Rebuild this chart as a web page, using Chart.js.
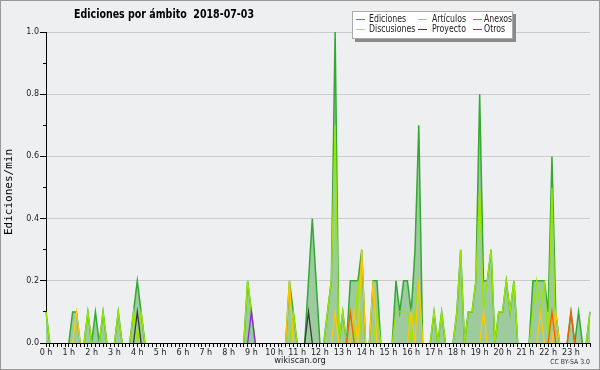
<!DOCTYPE html>
<html>
<head>
<meta charset="utf-8">
<script src="https://cdn.jsdelivr.net/npm/chart.js@4.4.0/dist/chart.umd.min.js"></script>
<style>
    html, body { margin: 0; padding: 0; background: #eeeff1; }
    canvas { display: block; }
</style>
</head>
<body>
<canvas id="myChartCanvasAmbito" width="600" height="370"></canvas>
<script>
// etiquetas de las horas (eje x)
let horas = ['0 h', '1 h', '2 h', '3 h', '4 h', '5 h', '6 h', '7 h', '8 h', '9 h', '10 h', '11 h',
    '12 h', '13 h', '14 h', '15 h', '16 h', '17 h', '18 h', '19 h', '20 h', '21 h', '22 h', '23 h'];

// ediciones por minuto, tramos de 10 minutos (6 por hora)
let ediciones = [
    0.1, 0, 0, 0, 0, 0,        // 0 h
    0, 0.1, 0.1, 0, 0, 0.1,    // 1 h
    0, 0.1, 0, 0.1, 0, 0,      // 2 h
    0, 0.1, 0, 0, 0, 0.1,      // 3 h
    0.2, 0.1, 0, 0, 0, 0,      // 4 h
    0, 0, 0, 0, 0, 0,          // 5 h
    0, 0, 0, 0, 0, 0,          // 6 h
    0, 0, 0, 0, 0, 0,          // 7 h
    0, 0, 0, 0, 0, 0.2,        // 8 h
    0.1, 0, 0, 0, 0, 0,        // 9 h
    0, 0, 0, 0, 0.2, 0.1,      // 10 h
    0, 0, 0, 0.2, 0.4, 0.2,    // 11 h
    0, 0, 0.1, 0.2, 1.0, 0,    // 12 h
    0.1, 0, 0.2, 0.2, 0.2, 0.3,// 13 h
    0, 0, 0.2, 0.2, 0, 0,      // 14 h
    0, 0, 0.2, 0.1, 0.2, 0.2,  // 15 h
    0.1, 0.3, 0.7, 0, 0, 0,    // 16 h
    0.1, 0, 0.1, 0, 0, 0,      // 17 h
    0.1, 0.3, 0, 0.1, 0.1, 0.2,// 18 h
    0.8, 0.2, 0.2, 0.3, 0, 0.1,// 19 h
    0.1, 0.2, 0.1, 0.2, 0, 0,  // 20 h
    0, 0, 0.2, 0.2, 0.2, 0.2,  // 21 h
    0.1, 0.6, 0.1, 0, 0, 0,    // 22 h
    0.1, 0, 0.1, 0, 0, 0.1     // 23 h
];

let articulos = [
    0.1, 0, 0, 0, 0, 0,
    0, 0, 0, 0, 0, 0.1,
    0, 0, 0, 0.1, 0, 0,
    0, 0.1, 0, 0, 0, 0.1,
    0, 0.1, 0, 0, 0, 0,
    0, 0, 0, 0, 0, 0,
    0, 0, 0, 0, 0, 0,
    0, 0, 0, 0, 0, 0,
    0, 0, 0, 0, 0, 0.2,
    0.1, 0, 0, 0, 0, 0,
    0, 0, 0, 0, 0, 0.1,
    0, 0, 0, 0, 0, 0,
    0, 0, 0.1, 0.2, 0.7, 0,
    0.1, 0, 0.1, 0, 0.2, 0,
    0, 0, 0, 0.1, 0, 0,
    0, 0, 0.1, 0.1, 0.1, 0.1,
    0, 0.1, 0.2, 0, 0, 0,
    0.1, 0, 0.1, 0, 0, 0,
    0.1, 0.3, 0, 0.1, 0.1, 0.2,
    0.5, 0.1, 0.2, 0.3, 0, 0.1,
    0.1, 0.2, 0.1, 0.2, 0, 0,
    0, 0, 0.1, 0.2, 0.1, 0.2,
    0, 0.5, 0, 0, 0, 0,
    0, 0, 0, 0, 0, 0.1
];

let discusiones = [
    0, 0, 0, 0, 0, 0,
    0, 0, 0.1, 0, 0, 0,
    0, 0, 0, 0, 0, 0,
    0, 0, 0, 0, 0, 0,
    0, 0, 0, 0, 0, 0,
    0, 0, 0, 0, 0, 0,
    0, 0, 0, 0, 0, 0,
    0, 0, 0, 0, 0, 0,
    0, 0, 0, 0, 0, 0,
    0, 0, 0, 0, 0, 0,
    0, 0, 0, 0, 0.2, 0,
    0, 0, 0, 0, 0, 0,
    0, 0, 0, 0, 0.1, 0,
    0, 0, 0, 0.1, 0, 0.3,
    0, 0, 0.2, 0, 0, 0,
    0, 0, 0, 0, 0, 0,
    0.1, 0, 0.2, 0, 0, 0,
    0, 0, 0, 0, 0, 0,
    0, 0, 0, 0, 0, 0,
    0, 0.1, 0, 0, 0, 0,
    0, 0, 0, 0, 0, 0,
    0, 0, 0, 0, 0.1, 0,
    0, 0, 0.1, 0, 0, 0,
    0, 0, 0, 0, 0, 0
];

let proyecto = [
    0, 0, 0, 0, 0, 0,
    0, 0, 0, 0, 0, 0,
    0, 0, 0, 0, 0, 0,
    0, 0, 0, 0, 0, 0,
    0.1, 0, 0, 0, 0, 0,
    0, 0, 0, 0, 0, 0,
    0, 0, 0, 0, 0, 0,
    0, 0, 0, 0, 0, 0,
    0, 0, 0, 0, 0, 0,
    0, 0, 0, 0, 0, 0,
    0, 0, 0, 0, 0, 0,
    0, 0, 0, 0.1, 0, 0,
    0, 0, 0, 0, 0, 0,
    0, 0, 0, 0, 0, 0,
    0, 0, 0, 0, 0, 0,
    0, 0, 0, 0, 0, 0,
    0, 0, 0, 0, 0, 0,
    0, 0, 0, 0, 0, 0,
    0, 0, 0, 0, 0, 0,
    0, 0, 0, 0, 0, 0,
    0, 0, 0, 0, 0, 0,
    0, 0, 0, 0, 0, 0,
    0, 0, 0, 0, 0, 0,
    0, 0, 0, 0, 0, 0
];

let anexos = [
    0, 0, 0, 0, 0, 0,
    0, 0, 0, 0, 0, 0,
    0, 0, 0, 0, 0, 0,
    0, 0, 0, 0, 0, 0,
    0, 0, 0, 0, 0, 0,
    0, 0, 0, 0, 0, 0,
    0, 0, 0, 0, 0, 0,
    0, 0, 0, 0, 0, 0,
    0, 0, 0, 0, 0, 0,
    0, 0, 0, 0, 0, 0,
    0, 0, 0, 0, 0, 0,
    0, 0, 0, 0, 0, 0,
    0, 0, 0, 0, 0, 0,
    0, 0, 0.1, 0, 0, 0,
    0, 0, 0, 0, 0, 0,
    0, 0, 0, 0, 0, 0,
    0, 0, 0, 0, 0, 0,
    0, 0, 0, 0, 0, 0,
    0, 0, 0, 0, 0, 0,
    0, 0, 0, 0, 0, 0,
    0, 0, 0, 0, 0, 0,
    0, 0, 0, 0, 0, 0,
    0, 0.1, 0, 0, 0, 0,
    0.1, 0, 0, 0, 0, 0
];

let otros = [
    0, 0, 0, 0, 0, 0,
    0, 0, 0, 0, 0, 0,
    0, 0, 0, 0, 0, 0,
    0, 0, 0, 0, 0, 0,
    0, 0, 0, 0, 0, 0,
    0, 0, 0, 0, 0, 0,
    0, 0, 0, 0, 0, 0,
    0, 0, 0, 0, 0, 0,
    0, 0, 0, 0, 0, 0,
    0.1, 0, 0, 0, 0, 0,
    0, 0, 0, 0, 0, 0,
    0, 0, 0, 0, 0, 0,
    0, 0, 0, 0, 0, 0,
    0, 0, 0, 0, 0, 0,
    0, 0, 0, 0, 0, 0,
    0, 0, 0, 0, 0, 0,
    0, 0, 0, 0, 0, 0,
    0, 0, 0, 0, 0, 0,
    0, 0, 0, 0, 0, 0,
    0, 0, 0, 0, 0, 0,
    0, 0, 0, 0, 0, 0,
    0, 0, 0, 0, 0, 0,
    0, 0, 0, 0, 0, 0,
    0, 0, 0, 0, 0, 0
];

let titulo = 'Ediciones por ámbito  2018-07-03';

// un rótulo por tramo de 10 minutos
let tramos = [];
horas.forEach(function (h) {
    for (let m = 0; m < 6; m++) {
        tramos.push(h.replace(' h', '') + ':' + m + '0');
    }
});

const fuente = '"DejaVu Sans", sans-serif';

// los tramos en cero quedan sobre el eje: no se pintan
function sinCero(ctx) {
    if (ctx.p0.parsed.y === 0 && ctx.p1.parsed.y === 0) {
        return 'rgba(0,0,0,0)';
    }
    return undefined;
}

function serie(label, data, color, orden, ancho) {
    return {
        label: label,
        data: data,
        borderColor: color,
        backgroundColor: color,
        borderWidth: ancho,
        pointRadius: 0,
        tension: 0,
        fill: false,
        order: orden,
        segment: { borderColor: sinCero }
    };
}

let edicionesSerie = serie('Ediciones', ediciones, '#33a833', 6, 1.5);
edicionesSerie.fill = 'origin';
edicionesSerie.backgroundColor = '#9ecb9e';

let chartData = {
    labels: tramos,
    datasets: [
        edicionesSerie,
        serie('Artículos', articulos, '#99e600', 5, 1.3),
        serie('Anexos', anexos, '#ff5a00', 2, 1.3),
        serie('Discusiones', discusiones, '#ffc800', 4, 1.3),
        serie('Proyecto', proyecto, '#3a3a3a', 3, 1.3),
        serie('Otros', otros, '#8a2be2', 1, 1.3)
    ]
};

// texto estrechado horizontalmente (la fuente original es condensada)
function textoEstrecho(c, texto, x, y, escala) {
    c.save();
    c.translate(x, y);
    c.scale(escala, 1);
    c.fillText(texto, 0, 0);
    c.restore();
}

// textos, leyenda y marco dibujados sobre el canvas
const extras = {
    id: 'extras',
    beforeDraw(chart) {
        const c = chart.ctx;
        c.save();
        c.fillStyle = '#eeeff1';
        c.fillRect(0, 0, chart.width, chart.height);
        c.restore();
    },
    afterDraw(chart) {
        const c = chart.ctx;
        c.save();
        c.fillStyle = '#000';
        c.textBaseline = 'middle';
        c.textAlign = 'center';
        c.font = 'bold 13px ' + fuente;
        let escala = 180 / c.measureText(titulo).width;
        textoEstrecho(c, titulo, 164, 15, escala);

        c.save();
        c.translate(9, 192);
        c.rotate(-Math.PI / 2);
        c.font = '11px "DejaVu Sans Mono", monospace';
        c.fillText('Ediciones/min', 0, 0);
        c.restore();

        c.font = '9px ' + fuente;
        c.fillStyle = '#222';
        textoEstrecho(c, 'wikiscan.org', 300, 361, 0.92);
        c.textAlign = 'right';
        c.font = '7px ' + fuente;
        c.fillStyle = '#333';
        textoEstrecho(c, 'CC BY-SA 3.0', 590, 362, 0.88);

        // leyenda
        c.fillStyle = '#8a8a8a';
        c.fillRect(355, 14, 161, 28);
        c.fillStyle = '#ffffff';
        c.fillRect(352, 11, 161, 28);
        c.strokeStyle = '#aaaaaa';
        c.lineWidth = 1;
        c.strokeRect(352.5, 11.5, 160, 27);
        const colX = [356, 418, 473];
        const textX = [369, 432, 484];
        const filaY = [19.5, 29.5];
        c.textAlign = 'left';
        c.font = '10px ' + fuente;
        chart.data.datasets.forEach(function (ds, i) {
            const col = i % 3, fila = Math.floor(i / 3);
            c.strokeStyle = ds.borderColor;
            c.beginPath();
            c.moveTo(colX[col], filaY[fila]);
            c.lineTo(colX[col] + 9, filaY[fila]);
            c.stroke();
            c.fillStyle = '#222';
            textoEstrecho(c, ds.label, textX[col], filaY[fila], 0.78);
        });

        c.strokeStyle = '#9a9a9a';
        c.strokeRect(0.5, 0.5, chart.width - 1, chart.height - 1);
        c.restore();
    }
};

const config = {
    type: 'line',
    data: chartData,
    options: {
        responsive: false,
        devicePixelRatio: 1,
        animation: false,
        layout: { padding: { top: 32, left: 0, right: 10, bottom: 0 } },
        plugins: {
            legend: { display: false },
            title: { display: false },
            tooltip: { enabled: false }
        },
        scales: {
            x: {
                type: 'category',
                offset: false,
                z: 1,
                afterFit: function (s) { s.height = 27; },
                border: { color: '#000', width: 1 },
                grid: { drawOnChartArea: false, color: '#000', tickLength: 4 },
                ticks: {
                    autoSkip: false,
                    maxRotation: 0,
                    padding: 1,
                    color: '#222',
                    font: { family: fuente, size: 8 },
                    callback: function (v, i) { return i % 6 === 0 ? horas[i / 6] : ''; }
                }
            },
            y: {
                min: 0,
                max: 1,
                weight: 1,
                afterFit: function (s) { s.width = 46; },
                border: { color: '#000', width: 1 },
                grid: {
                    color: function (ctx) { return ctx.tick && ctx.tick.value === 0 ? 'rgba(0,0,0,0)' : '#cccccc'; },
                    tickColor: '#000',
                    tickLength: 6
                },
                ticks: {
                    stepSize: 0.2,
                    padding: 1,
                    color: '#222',
                    font: { family: fuente, size: 8 },
                    callback: function (v) { return v.toFixed(1); }
                }
            },
            yMenor: {
                position: 'left',
                min: 0,
                max: 1,
                weight: 0,
                afterFit: function (s) { s.width = 0; },
                border: { color: '#000', width: 1 },
                grid: { drawOnChartArea: false, color: '#000', tickLength: 3 },
                ticks: {
                    stepSize: 0.05,
                    maxTicksLimit: 100,
                    callback: function () { return ''; }
                }
            }
        }
    },
    plugins: [extras]
};

let myChart = new Chart(document.getElementById('myChartCanvasAmbito'), config);
</script>
</body>
</html>
